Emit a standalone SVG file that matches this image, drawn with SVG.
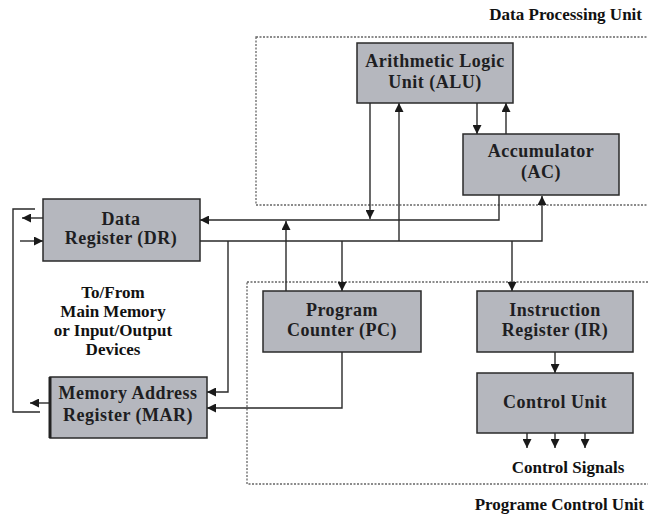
<svg xmlns="http://www.w3.org/2000/svg" width="648" height="521" viewBox="0 0 648 521">
<defs>
<marker id="ah" viewBox="0 0 10 10" refX="10" refY="5" markerWidth="9" markerHeight="9" markerUnits="userSpaceOnUse" orient="auto">
<path d="M0,0 L10,5 L0,10 z" fill="#1a1a1a"/>
</marker>
<style>
.box{fill:#b5b7be;stroke:#2a2a2a;stroke-width:1.5}
text{font-family:'Liberation Serif','DejaVu Serif',serif;font-weight:bold}
.lbl{font-size:18px;letter-spacing:0.5px;fill:#1e1e22;text-anchor:middle}
.cap{font-size:17px;fill:#111;text-anchor:middle}
.end{text-anchor:end}
.zone{fill:none;stroke:#666;stroke-width:1.3;stroke-dasharray:2 1.5}
.ln{fill:none;stroke:#2a2a2a;stroke-width:1.4}
.ar{fill:none;stroke:#2a2a2a;stroke-width:1.4;marker-end:url(#ah)}
</style>
</defs>
<rect width="648" height="521" fill="#ffffff"/>

<g id="zones">
<rect class="zone" x="256" y="37" width="400" height="168"/>
<rect class="zone" x="247" y="282" width="410" height="202"/>
<text class="cap end" x="642" y="20">Data Processing Unit</text>
<text class="cap end" x="644" y="510">Programe Control Unit</text>
<text class="cap" x="568" y="473">Control Signals</text>
</g>

<g id="memory-label">
<text class="cap" x="113" y="298">To/From</text>
<text class="cap" x="113" y="317">Main Memory</text>
<text class="cap" x="113" y="336">or Input/Output</text>
<text class="cap" x="113" y="355">Devices</text>
</g>

<g id="connectors">
<path class="ar" d="M43,218 H22"/>
<path class="ln" d="M35,209 H13 V412 H40"/>
<path class="ar" d="M20,241 H43"/>
<path class="ar" d="M50,403 H30"/>
<path class="ar" d="M499,195 V220 H200"/>
<path class="ar" d="M200,241 H542 V196"/>
<path class="ar" d="M228,241 V392 H207"/>
<path class="ar" d="M286,291 V221"/>
<path class="ar" d="M342,241 V291"/>
<path class="ar" d="M399,241 V103"/>
<path class="ar" d="M370,103 V219"/>
<path class="ar" d="M477,103 V134"/>
<path class="ar" d="M506,134 V103"/>
<path class="ar" d="M512,241 V291"/>
<path class="ar" d="M555,352 V373"/>
<path class="ar" d="M527,433 V448"/>
<path class="ar" d="M555,433 V448"/>
<path class="ar" d="M585,433 V448"/>
<path class="ar" d="M342,352 V408 H207"/>
</g>

<g id="alu">
<rect class="box" x="357" y="43" width="156" height="60"/>
<text class="lbl" x="435" y="67">Arithmetic Logic</text>
<text class="lbl" x="435" y="88">Unit (ALU)</text>
</g>
<g id="ac">
<rect class="box" x="463" y="134" width="156" height="61"/>
<text class="lbl" x="541" y="157">Accumulator</text>
<text class="lbl" x="541" y="178">(AC)</text>
</g>
<g id="dr">
<rect class="box" x="43" y="199" width="157" height="62"/>
<text class="lbl" x="121" y="225">Data</text>
<text class="lbl" x="121" y="244">Register (DR)</text>
</g>
<g id="pc">
<rect class="box" x="263" y="291" width="158" height="61"/>
<text class="lbl" x="342" y="316">Program</text>
<text class="lbl" x="342" y="336">Counter (PC)</text>
</g>
<g id="ir">
<rect class="box" x="477" y="291" width="156" height="61"/>
<text class="lbl" x="555" y="316">Instruction</text>
<text class="lbl" x="555" y="336">Register (IR)</text>
</g>
<g id="cu">
<rect class="box" x="477" y="373" width="156" height="60"/>
<text class="lbl" x="555" y="408">Control Unit</text>
</g>
<g id="mar">
<rect class="box" x="50" y="377" width="157" height="61"/>
<line x1="50" y1="377" x2="50" y2="438" stroke="#222" stroke-width="3"/>
<text class="lbl" x="128" y="399">Memory Address</text>
<text class="lbl" x="128" y="421">Register (MAR)</text>
</g>
</svg>
